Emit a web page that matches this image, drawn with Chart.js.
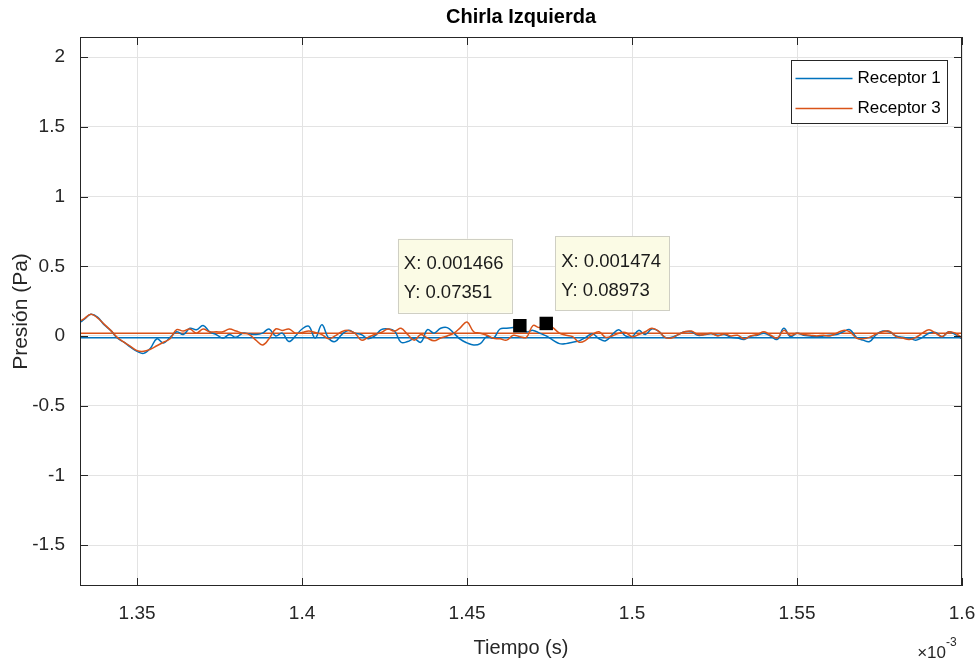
<!DOCTYPE html>
<html>
<head>
<meta charset="utf-8">
<script src="https://cdn.jsdelivr.net/npm/chart.js@4.4.0/dist/chart.umd.min.js"></script>
<style>
  html, body { margin: 0; padding: 0; background: #fff; }
  #wrap { width: 976px; height: 666px; }
</style>
</head>
<body>
<div id="wrap"><canvas id="chart"></canvas></div>
<script>
// tiempo en unidades de 1e-3 s (el eje lleva el factor x10^-3)
const tiempo = [
  1.333, 1.334, 1.336, 1.338, 1.340, 1.342, 1.344, 1.346, 1.348, 1.350,
  1.352, 1.354, 1.356, 1.358, 1.360, 1.362, 1.364, 1.366, 1.368, 1.370,
  1.372, 1.374, 1.376, 1.378, 1.380, 1.382, 1.384, 1.386, 1.388, 1.390,
  1.392, 1.394, 1.396, 1.398, 1.400, 1.402, 1.404, 1.406, 1.408, 1.410,
  1.412, 1.414, 1.416, 1.418, 1.420, 1.422, 1.424, 1.426, 1.428, 1.430,
  1.432, 1.434, 1.436, 1.438, 1.440, 1.442, 1.444, 1.446, 1.448, 1.450,
  1.452, 1.454, 1.456, 1.458, 1.460, 1.462, 1.464, 1.466, 1.468, 1.470,
  1.472, 1.474, 1.476, 1.478, 1.480, 1.482, 1.484, 1.486, 1.488, 1.490,
  1.492, 1.494, 1.496, 1.498, 1.500, 1.502, 1.504, 1.506, 1.508, 1.510,
  1.512, 1.514, 1.516, 1.518, 1.520, 1.522, 1.524, 1.526, 1.528, 1.530,
  1.532, 1.534, 1.536, 1.538, 1.540, 1.542, 1.544, 1.546, 1.548, 1.550,
  1.552, 1.554, 1.556, 1.558, 1.560, 1.562, 1.564, 1.566, 1.568, 1.570,
  1.572, 1.574, 1.576, 1.578, 1.580, 1.582, 1.584, 1.586, 1.588, 1.590,
  1.592, 1.594, 1.596, 1.598, 1.600
];

const receptor1 = [
  0.10, 0.12, 0.155, 0.135, 0.08, 0.04, -0.015, -0.045, -0.08, -0.11,
  -0.125, -0.09, -0.02, -0.05, -0.01, 0.03, 0.01, 0.055, 0.045, 0.075,
  0.03, 0.01, -0.015, 0.01, -0.01, 0.02, 0.015, 0.01, 0.02, 0.05,
  0.0, 0.02, -0.04, 0.0, 0.05, 0.07, -0.015, 0.08, -0.015, -0.04,
  0.01, 0.04, 0.02, 0.01, -0.02, 0.0, 0.045, 0.05, 0.035, -0.045,
  -0.04, -0.02, -0.045, 0.045, 0.02, 0.055, 0.06, 0.02, -0.025, -0.05,
  -0.065, -0.055, -0.005, -0.015, 0.05, 0.055, 0.06, 0.0735, 0.03, 0.04,
  0.02, 0.0, -0.03, -0.055, -0.055, -0.045, -0.035, -0.01, 0.015, -0.02,
  -0.035, 0.01, 0.045, 0.0, -0.005, 0.04, 0.01, 0.05, 0.035, -0.01,
  -0.01, 0.01, 0.03, 0.03, 0.005, 0.01, 0.015, 0.005, 0.01, -0.01,
  -0.015, -0.025, 0.0, 0.005, 0.02, 0.0, -0.025, 0.055, -0.005, 0.02,
  0.005, 0.0, -0.005, 0.0, 0.005, 0.01, 0.03, 0.045, -0.01, -0.03,
  -0.04, 0.01, 0.035, 0.03, 0.0, -0.01, -0.015, -0.03, -0.01, 0.02,
  0.025, -0.005, 0.03, 0.01, -0.02
];

const receptor3 = [
  0.11, 0.125, 0.155, 0.13, 0.085, 0.04, -0.01, -0.045, -0.075, -0.105,
  -0.11, -0.095, -0.07, -0.045, -0.02, 0.045, 0.035, 0.05, 0.02, 0.05,
  0.03, 0.03, 0.03, 0.05, 0.035, 0.02, 0.01, -0.03, -0.065, -0.02,
  0.05, 0.04, 0.05, 0.02, 0.025, 0.035, 0.025, 0.01, -0.02, 0.0,
  0.03, 0.04, 0.02, -0.03, -0.01, 0.01, 0.025, 0.05, 0.035, 0.055,
  0.01, -0.03, 0.01, -0.015, -0.035, -0.015, 0.0, 0.02, 0.06, 0.1,
  0.03, 0.02, 0.005, -0.017, -0.02, -0.03, 0.005, -0.005, -0.01, 0.075,
  0.06, 0.0897, 0.06, 0.02, 0.005, -0.005, -0.045, -0.03, 0.01, 0.03,
  -0.01, 0.0, 0.02, 0.025, -0.005, 0.01, 0.03, 0.055, 0.035, -0.01,
  -0.015, 0.01, 0.03, 0.035, 0.01, 0.01, 0.02, 0.0, 0.015, 0.0,
  0.005, -0.02, 0.0, 0.01, 0.03, 0.005, -0.015, 0.04, 0.005, 0.02,
  0.01, 0.005, 0.0, 0.005, 0.0, 0.02, 0.04, 0.03, -0.015, -0.02,
  -0.01, 0.015, 0.03, 0.035, -0.005, -0.015, -0.025, -0.01, 0.02, 0.045,
  0.02, -0.005, 0.03, 0.02, -0.015
];

// niveles constantes que cruzan todo el eje
const nivelR1 = -0.012;
const nivelR3 = 0.02;

const xMin = 1.3327, xMax = 1.6;
const yMin = -1.794, yMax = 2.145;
const xTicks = [1.35, 1.4, 1.45, 1.5, 1.55, 1.6];
const yTicks = [-1.5, -1, -0.5, 0, 0.5, 1, 1.5, 2];

const datatipX = [1.466, 1.474];
const datatipY = [0.07351, 0.08973];
const datatipTexto = [['X: 0.001466', 'Y: 0.07351'], ['X: 0.001474', 'Y: 0.08973']];

const azul = '#0072BD';
const naranja = '#D95319';
const FUENTE = '"Liberation Sans", Arial, Helvetica, sans-serif';

const puntos = (ys) => tiempo.map((t, i) => ({ x: t, y: ys[i] }));

const decoracion = {
  id: 'decoracion',
  afterDatasetsDraw(chart) {
    const { ctx, chartArea: a, scales: { x, y } } = chart;
    ctx.save();

    // marco y marcas hacia adentro
    ctx.strokeStyle = '#262626';
    ctx.lineWidth = 1;
    ctx.strokeRect(a.left + 0.5, a.top + 0.5, a.right - a.left - 1, a.bottom - a.top - 1);
    ctx.beginPath();
    xTicks.forEach(v => {
      const px = Math.round(x.getPixelForValue(v)) + 0.5;
      ctx.moveTo(px, a.bottom); ctx.lineTo(px, a.bottom - 8);
      ctx.moveTo(px, a.top); ctx.lineTo(px, a.top + 8);
    });
    yTicks.forEach(v => {
      const py = Math.round(y.getPixelForValue(v)) + 0.5;
      ctx.moveTo(a.left, py); ctx.lineTo(a.left + 8, py);
      ctx.moveTo(a.right, py); ctx.lineTo(a.right - 8, py);
    });
    ctx.stroke();

    // cuadros de datatip
    ctx.font = '18.5px ' + FUENTE;
    ctx.textBaseline = 'middle';
    ctx.textAlign = 'left';
    datatipX.forEach((v, i) => {
      const px = x.getPixelForValue(v);
      const py = y.getPixelForValue(datatipY[i]);
      const w = 114, h = 74;
      const left = i === 0 ? px - 8 - w : px + 9;
      const top = py - 13 - h;
      ctx.fillStyle = '#fbfbe5';
      ctx.fillRect(left, top, w, h);
      ctx.strokeStyle = '#cfcfc4';
      ctx.strokeRect(Math.round(left) + 0.5, Math.round(top) + 0.5, w, h);
      ctx.fillStyle = '#1a1a1a';
      ctx.fillText(datatipTexto[i][0], left + 6, top + 25);
      ctx.fillText(datatipTexto[i][1], left + 6, top + 54);
    });

    // leyenda
    const lw = 156, lh = 63;
    const lx = Math.round(a.right - 15 - lw) + 0.5, ly = Math.round(a.top + 23) + 0.5;
    ctx.fillStyle = '#fff';
    ctx.fillRect(lx, ly, lw, lh);
    ctx.strokeStyle = '#262626';
    ctx.strokeRect(lx, ly, lw, lh);
    ctx.font = '17px ' + FUENTE;
    [['Receptor 1', azul], ['Receptor 3', naranja]].forEach(([nombre, color], i) => {
      const cy = ly + 18 + i * 30;
      ctx.strokeStyle = color;
      ctx.lineWidth = 1.5;
      ctx.beginPath(); ctx.moveTo(lx + 4, cy); ctx.lineTo(lx + 61, cy); ctx.stroke();
      ctx.fillStyle = '#000';
      ctx.fillText(nombre, lx + 66, cy);
    });
    ctx.restore();
  },
  afterDraw(chart) {
    const { ctx, chartArea: a } = chart;
    const cx = (a.left + a.right) / 2;
    ctx.save();
    ctx.fillStyle = '#000';
    ctx.textAlign = 'center';
    ctx.textBaseline = 'middle';
    ctx.font = 'bold 20px ' + FUENTE;
    ctx.fillText('Chirla Izquierda', cx, 17);
    ctx.fillStyle = '#262626';
    ctx.font = '20px ' + FUENTE;
    ctx.fillText('Tiempo (s)', cx, 648);
    ctx.save();
    ctx.translate(21, (a.top + a.bottom) / 2);
    ctx.rotate(-Math.PI / 2);
    ctx.font = '21px ' + FUENTE;
    ctx.fillText('Presión (Pa)', 0, 0);
    ctx.restore();
    ctx.textAlign = 'right';
    ctx.font = '17px ' + FUENTE;
    ctx.fillText('\u00d710', a.right - 16, 653);
    ctx.font = '12px ' + FUENTE;
    ctx.textAlign = 'left';
    ctx.fillText('-3', a.right - 16, 643);
    ctx.restore();
  }
};

new Chart(document.getElementById('chart'), {
  type: 'line',
  data: {
    datasets: [
      {
        label: 'datatips',
        data: datatipX.map((v, i) => ({ x: v, y: datatipY[i] })),
        showLine: false,
        pointStyle: 'rect',
        pointRadius: 9.5,
        backgroundColor: '#000',
        borderColor: '#000',
        borderWidth: 0,
        order: 0
      },
      {
        label: 'Receptor 3',
        data: puntos(receptor3),
        borderColor: naranja,
        borderWidth: 1.5,
        pointRadius: 0,
        tension: 0.4,
        fill: false,
        order: 1
      },
      {
        label: 'Receptor 1',
        data: puntos(receptor1),
        borderColor: azul,
        borderWidth: 1.5,
        pointRadius: 0,
        tension: 0.4,
        fill: false,
        order: 2
      },
      {
        label: 'nivel R3',
        data: [{ x: xMin, y: nivelR3 }, { x: xMax, y: nivelR3 }],
        borderColor: naranja,
        borderWidth: 1.5,
        pointRadius: 0,
        order: 3
      },
      {
        label: 'nivel R1',
        data: [{ x: xMin, y: nivelR1 }, { x: xMax, y: nivelR1 }],
        borderColor: azul,
        borderWidth: 1.5,
        pointRadius: 0,
        order: 4
      }
    ]
  },
  options: {
    responsive: true,
    maintainAspectRatio: false,
    animation: false,
    events: [],
    layout: { padding: { top: 37, right: 14, left: 0, bottom: 0 } },
    plugins: {
      legend: { display: false },
      tooltip: { enabled: false },
      title: { display: false }
    },
    scales: {
      x: {
        type: 'linear',
        min: xMin,
        max: xMax,
        afterBuildTicks: (s) => { s.ticks = xTicks.map(v => ({ value: v })); },
        afterFit: (s) => { s.height = 80; s.paddingLeft = 0; s.paddingRight = 0; },
        ticks: {
          autoSkip: false,
          maxRotation: 0,
          padding: 16,
          color: '#262626',
          font: { family: FUENTE, size: 19 },
          callback: (v) => String(v)
        },
        grid: { color: '#e3e3e3', drawTicks: false },
        border: { display: false }
      },
      y: {
        type: 'linear',
        min: yMin,
        max: yMax,
        afterBuildTicks: (s) => { s.ticks = yTicks.map(v => ({ value: v })); },
        afterFit: (s) => { s.width = 80; s.paddingTop = 0; s.paddingBottom = 0; },
        ticks: {
          autoSkip: false,
          padding: 15,
          color: '#262626',
          font: { family: FUENTE, size: 19 },
          callback: (v) => String(v)
        },
        grid: { color: '#e3e3e3', drawTicks: false },
        border: { display: false }
      }
    }
  },
  plugins: [decoracion]
});
</script>
</body>
</html>
